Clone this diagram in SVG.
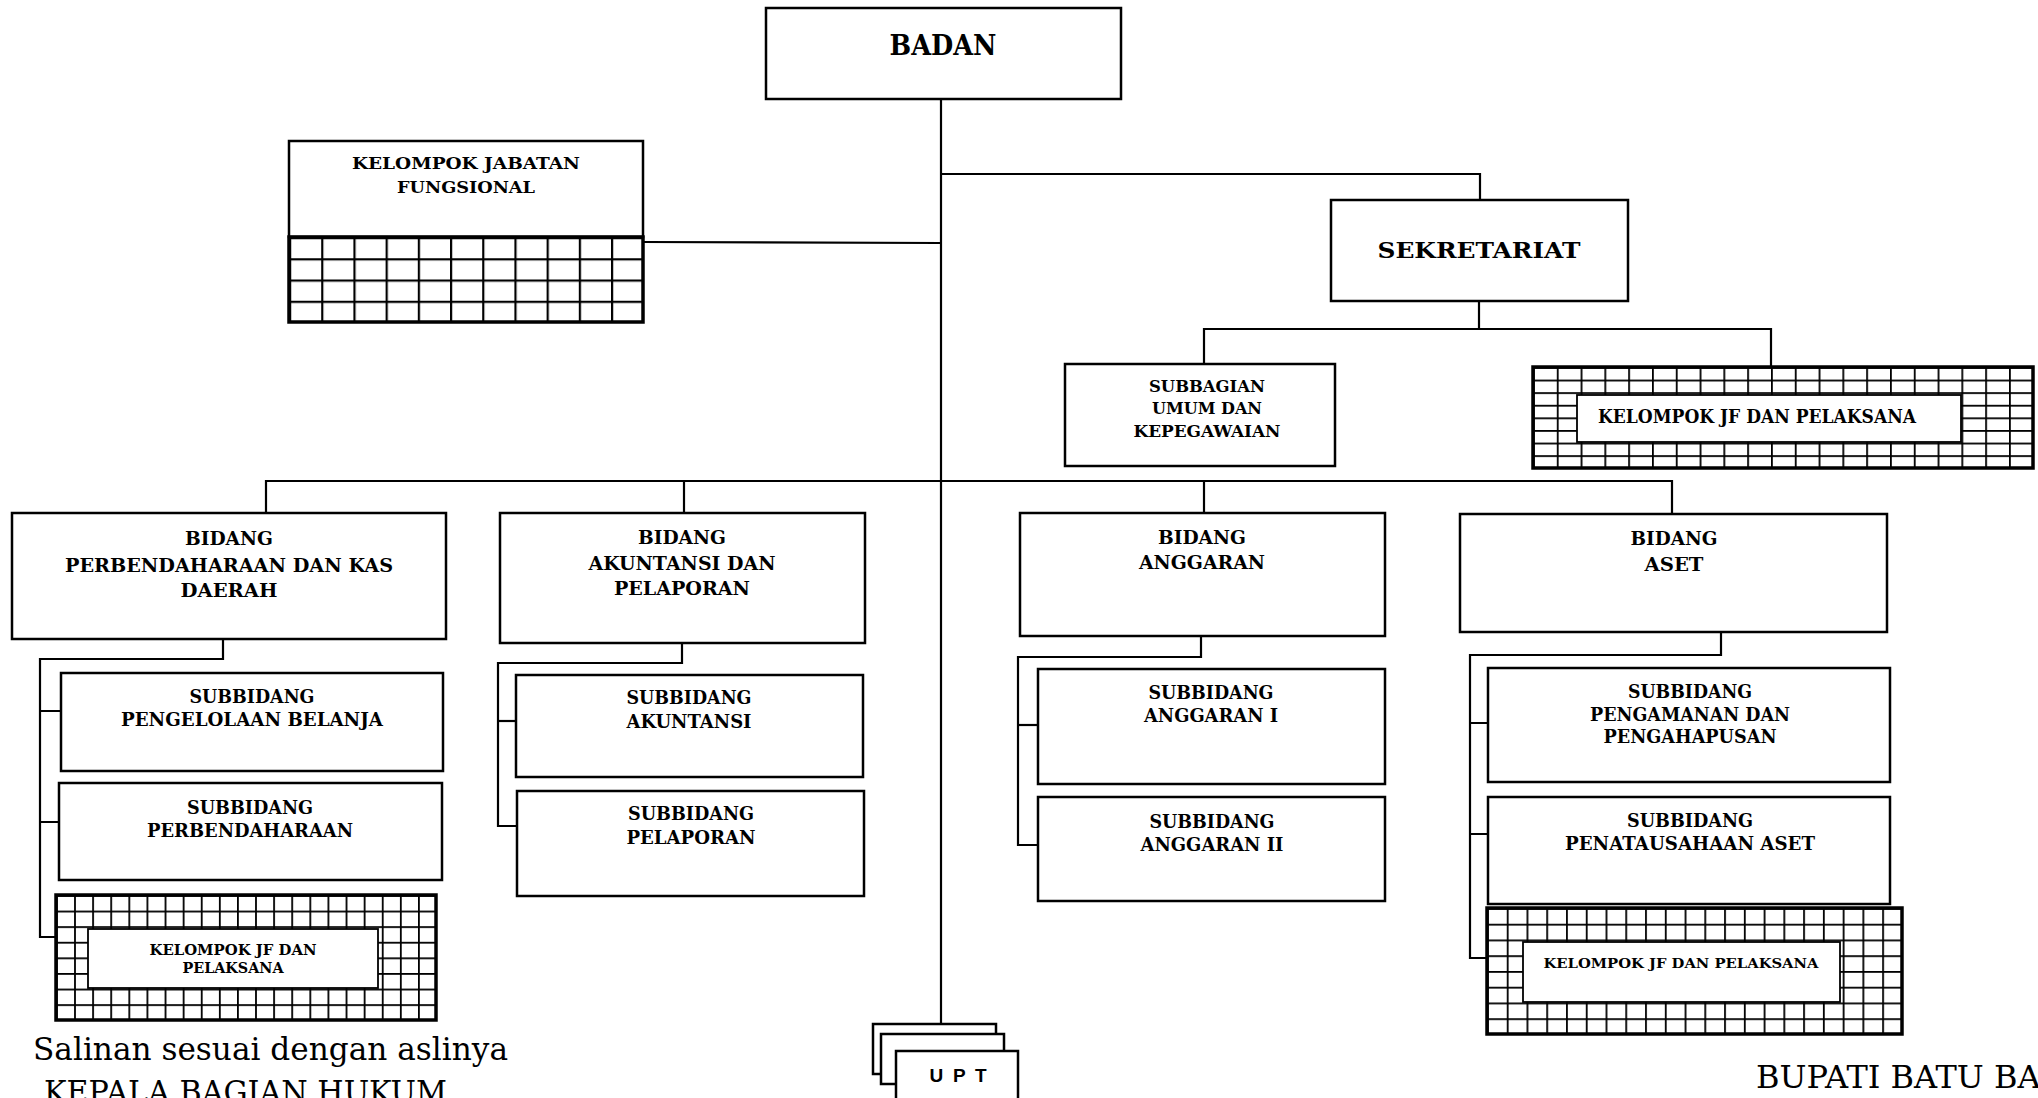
<svg xmlns="http://www.w3.org/2000/svg" width="2038" height="1098" viewBox="0 0 2038 1098">
<style>
.box{fill:#fff;stroke:#000;stroke-width:2.5}
.grid{stroke:#000;stroke-width:3.5}
.inner{fill:#fff;stroke:#000;stroke-width:1.8}
.t{font-family:"DejaVu Serif","Liberation Serif",serif;font-weight:bold;text-anchor:middle;fill:#000}
.n{font-family:"DejaVu Serif","Liberation Serif",serif;fill:#000}
.conn{stroke:#000;stroke-width:2.2;fill:none}
</style>
<defs>
<pattern id="gKJF" patternUnits="userSpaceOnUse" x="289" y="237" width="32.2" height="21.25"><rect width="32.2" height="21.25" fill="#000"/><rect x="2.2" y="2.2" width="30" height="19.05" fill="#fff"/></pattern>
<pattern id="gSek" patternUnits="userSpaceOnUse" x="1533" y="367" width="23.8" height="12.6"><rect width="23.8" height="12.6" fill="#000"/><rect x="1.8" y="1.8" width="22" height="10.8" fill="#fff"/></pattern>
<pattern id="gJF1" patternUnits="userSpaceOnUse" x="56" y="895" width="18.1" height="15.6"><rect width="18.1" height="15.6" fill="#000"/><rect x="1.8" y="1.8" width="16.3" height="13.8" fill="#fff"/></pattern>
<pattern id="gJF4" patternUnits="userSpaceOnUse" x="1487" y="908" width="19.76" height="15.75"><rect width="19.76" height="15.75" fill="#000"/><rect x="1.8" y="1.8" width="17.96" height="13.95" fill="#fff"/></pattern>
</defs>
<rect width="2038" height="1098" fill="#fff"/>

<g id="connectors">
<path class="conn" d="M941 99 V1024"/>
<path class="conn" d="M941 174 H1480 V200"/>
<path class="conn" d="M643 242 L941 243"/>
<path class="conn" d="M1479 301 V329"/>
<path class="conn" d="M1204 364 V329 H1771 V367"/>
<path class="conn" d="M266 513 V481 H1672 V514"/>
<path class="conn" d="M684 481 V513"/>
<path class="conn" d="M1204 481 V513"/>
<path class="conn" d="M223 639 V659 H40 V937 H56"/>
<path class="conn" d="M40 711 H61 M40 822 H59"/>
<path class="conn" d="M682 643 V663 H498 V826 H517"/>
<path class="conn" d="M498 721 H516"/>
<path class="conn" d="M1201 636 V657 H1018 V845 H1038"/>
<path class="conn" d="M1018 725 H1038"/>
<path class="conn" d="M1721 632 V655 H1470 V958 H1487"/>
<path class="conn" d="M1470 723 H1488 M1470 834 H1488"/>
</g>

<g id="badan">
<rect class="box" x="766" y="8" width="355" height="91"/>
<text class="t" x="943" y="55" font-size="27" textLength="107" lengthAdjust="spacingAndGlyphs">BADAN</text>
</g>

<g id="kelompok-jabatan-fungsional">
<rect class="box" x="289" y="141" width="354" height="96"/>
<rect x="289" y="237" width="354" height="85" fill="url(#gKJF)" class="grid" stroke-width="2.5"/>
<text class="t" x="466" y="169" font-size="16" textLength="228" lengthAdjust="spacingAndGlyphs">KELOMPOK JABATAN</text>
<text class="t" x="466" y="193" font-size="16" textLength="138" lengthAdjust="spacingAndGlyphs">FUNGSIONAL</text>
</g>

<g id="sekretariat">
<rect class="box" x="1331" y="200" width="297" height="101"/>
<text class="t" x="1479" y="258" font-size="22" textLength="203" lengthAdjust="spacingAndGlyphs">SEKRETARIAT</text>
</g>

<g id="subbagian-umum">
<rect class="box" x="1065" y="364" width="270" height="102"/>
<text class="t" x="1207" y="392" font-size="17" textLength="116" lengthAdjust="spacingAndGlyphs">SUBBAGIAN</text>
<text class="t" x="1207" y="414" font-size="17" textLength="110" lengthAdjust="spacingAndGlyphs">UMUM DAN</text>
<text class="t" x="1207" y="437" font-size="17" textLength="147" lengthAdjust="spacingAndGlyphs">KEPEGAWAIAN</text>
</g>

<g id="jf-sekretariat">
<rect x="1533" y="367" width="500" height="101" fill="url(#gSek)" class="grid"/>
<rect class="inner" x="1577" y="395" width="384" height="47"/>
<text class="t" x="1757" y="423" font-size="18" textLength="318" lengthAdjust="spacingAndGlyphs">KELOMPOK JF DAN PELAKSANA</text>
</g>

<g id="bidang-perbendaharaan">
<rect class="box" x="12" y="513" width="434" height="126"/>
<text class="t" x="229" y="545" font-size="18" textLength="88" lengthAdjust="spacingAndGlyphs">BIDANG</text>
<text class="t" x="229" y="572" font-size="18" textLength="328" lengthAdjust="spacingAndGlyphs">PERBENDAHARAAN DAN KAS</text>
<text class="t" x="229" y="597" font-size="18" textLength="97" lengthAdjust="spacingAndGlyphs">DAERAH</text>
</g>

<g id="subbidang-pengelolaan-belanja">
<rect class="box" x="61" y="673" width="382" height="98"/>
<text class="t" x="252" y="703" font-size="18" textLength="125" lengthAdjust="spacingAndGlyphs">SUBBIDANG</text>
<text class="t" x="252" y="726" font-size="18" textLength="262" lengthAdjust="spacingAndGlyphs">PENGELOLAAN BELANJA</text>
</g>

<g id="subbidang-perbendaharaan">
<rect class="box" x="59" y="783" width="383" height="97"/>
<text class="t" x="250" y="814" font-size="18" textLength="126" lengthAdjust="spacingAndGlyphs">SUBBIDANG</text>
<text class="t" x="250" y="837" font-size="18" textLength="206" lengthAdjust="spacingAndGlyphs">PERBENDAHARAAN</text>
</g>

<g id="jf-perbendaharaan">
<rect x="56" y="895" width="380" height="125" fill="url(#gJF1)" class="grid"/>
<rect class="inner" x="88" y="929" width="290" height="59"/>
<text class="t" x="233" y="955" font-size="15" textLength="167" lengthAdjust="spacingAndGlyphs">KELOMPOK JF DAN</text>
<text class="t" x="233" y="973" font-size="15" textLength="101" lengthAdjust="spacingAndGlyphs">PELAKSANA</text>
</g>

<g id="bidang-akuntansi">
<rect class="box" x="500" y="513" width="365" height="130"/>
<text class="t" x="682" y="544" font-size="18" textLength="88" lengthAdjust="spacingAndGlyphs">BIDANG</text>
<text class="t" x="682" y="570" font-size="18" textLength="187" lengthAdjust="spacingAndGlyphs">AKUNTANSI DAN</text>
<text class="t" x="682" y="595" font-size="18" textLength="136" lengthAdjust="spacingAndGlyphs">PELAPORAN</text>
</g>

<g id="subbidang-akuntansi">
<rect class="box" x="516" y="675" width="347" height="102"/>
<text class="t" x="689" y="704" font-size="18" textLength="125" lengthAdjust="spacingAndGlyphs">SUBBIDANG</text>
<text class="t" x="689" y="728" font-size="18" textLength="125" lengthAdjust="spacingAndGlyphs">AKUNTANSI</text>
</g>

<g id="subbidang-pelaporan">
<rect class="box" x="517" y="791" width="347" height="105"/>
<text class="t" x="691" y="820" font-size="18" textLength="126" lengthAdjust="spacingAndGlyphs">SUBBIDANG</text>
<text class="t" x="691" y="844" font-size="18" textLength="129" lengthAdjust="spacingAndGlyphs">PELAPORAN</text>
</g>

<g id="bidang-anggaran">
<rect class="box" x="1020" y="513" width="365" height="123"/>
<text class="t" x="1202" y="544" font-size="18" textLength="88" lengthAdjust="spacingAndGlyphs">BIDANG</text>
<text class="t" x="1202" y="569" font-size="18" textLength="126" lengthAdjust="spacingAndGlyphs">ANGGARAN</text>
</g>

<g id="subbidang-anggaran-1">
<rect class="box" x="1038" y="669" width="347" height="115"/>
<text class="t" x="1211" y="699" font-size="18" textLength="125" lengthAdjust="spacingAndGlyphs">SUBBIDANG</text>
<text class="t" x="1211" y="722" font-size="18" textLength="134" lengthAdjust="spacingAndGlyphs">ANGGARAN I</text>
</g>

<g id="subbidang-anggaran-2">
<rect class="box" x="1038" y="797" width="347" height="104"/>
<text class="t" x="1212" y="828" font-size="18" textLength="125" lengthAdjust="spacingAndGlyphs">SUBBIDANG</text>
<text class="t" x="1212" y="851" font-size="18" textLength="143" lengthAdjust="spacingAndGlyphs">ANGGARAN II</text>
</g>

<g id="bidang-aset">
<rect class="box" x="1460" y="514" width="427" height="118"/>
<text class="t" x="1674" y="545" font-size="18" textLength="87" lengthAdjust="spacingAndGlyphs">BIDANG</text>
<text class="t" x="1674" y="571" font-size="18" textLength="59" lengthAdjust="spacingAndGlyphs">ASET</text>
</g>

<g id="subbidang-pengamanan">
<rect class="box" x="1488" y="668" width="402" height="114"/>
<text class="t" x="1690" y="698" font-size="18" textLength="124" lengthAdjust="spacingAndGlyphs">SUBBIDANG</text>
<text class="t" x="1690" y="721" font-size="18" textLength="200" lengthAdjust="spacingAndGlyphs">PENGAMANAN DAN</text>
<text class="t" x="1690" y="743" font-size="18" textLength="173" lengthAdjust="spacingAndGlyphs">PENGAHAPUSAN</text>
</g>

<g id="subbidang-penatausahaan">
<rect class="box" x="1488" y="797" width="402" height="107"/>
<text class="t" x="1690" y="827" font-size="18" textLength="126" lengthAdjust="spacingAndGlyphs">SUBBIDANG</text>
<text class="t" x="1690" y="850" font-size="18" textLength="250" lengthAdjust="spacingAndGlyphs">PENATAUSAHAAN ASET</text>
</g>

<g id="jf-aset">
<rect x="1487" y="908" width="415" height="126" fill="url(#gJF4)" class="grid"/>
<rect class="inner" x="1523" y="942" width="317" height="60"/>
<text class="t" x="1681" y="968" font-size="13" textLength="275" lengthAdjust="spacingAndGlyphs">KELOMPOK JF DAN PELAKSANA</text>
</g>

<g id="upt">
<rect class="box" x="873" y="1024" width="123" height="50"/>
<rect class="box" x="881" y="1034" width="123" height="50"/>
<rect class="box" x="896" y="1051" width="122" height="60"/>
<text x="958" y="1082" font-family="'Liberation Sans',Arial,sans-serif" font-weight="bold" font-size="19" text-anchor="middle" textLength="57">U P T</text>
</g>

<g id="footer">
<text class="n" x="33" y="1060" font-size="31" textLength="475" lengthAdjust="spacingAndGlyphs">Salinan sesuai dengan aslinya</text>
<text class="n" x="44" y="1103" font-size="31" textLength="403" lengthAdjust="spacingAndGlyphs">KEPALA BAGIAN HUKUM</text>
<text class="n" x="1756" y="1088" font-size="32">BUPATI BATU BARA</text>
</g>
</svg>
